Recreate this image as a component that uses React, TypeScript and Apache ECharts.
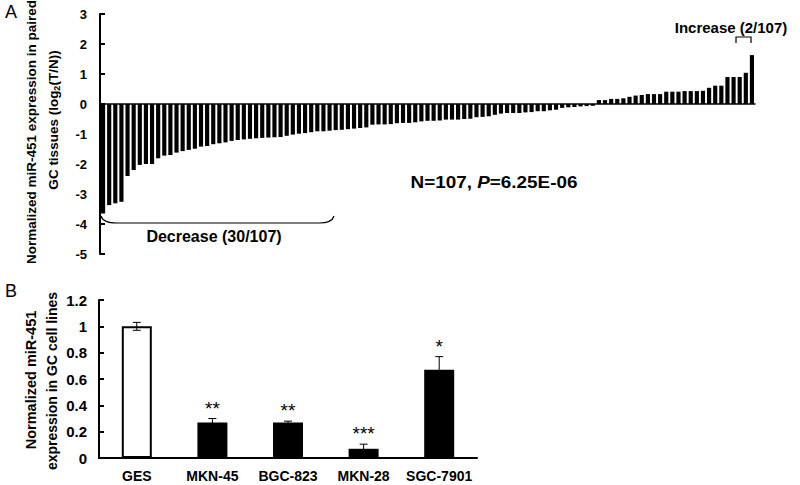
import React, { useEffect, useRef } from "react";
import * as echarts from "echarts";

// ---- Panel A: paired GC tissues, log2(T/N) ----
const tissueLog2Ratio: number[] = [
  -3.65, -3.37, -3.31, -3.26, -2.4, -2.2, -2.03, -2.0, -2.0, -1.81,
  -1.72, -1.7, -1.62, -1.57, -1.53, -1.49, -1.42, -1.4, -1.34, -1.31,
  -1.28, -1.23, -1.2, -1.18, -1.16, -1.14, -1.13, -1.12, -1.11, -1.1,
  -1.06, -1.02, -0.99, -0.97, -0.94, -0.91, -0.91, -0.89, -0.87, -0.86,
  -0.84, -0.82, -0.8, -0.78, -0.69, -0.68, -0.68, -0.67, -0.64, -0.63,
  -0.63, -0.61, -0.58, -0.56, -0.56, -0.55, -0.52, -0.52, -0.52, -0.5,
  -0.49, -0.44, -0.43, -0.41, -0.36, -0.32, -0.3, -0.3, -0.3, -0.28,
  -0.27, -0.24, -0.24, -0.21, -0.19, -0.13, -0.11, -0.1, -0.08, -0.07,
  -0.06,
  0.13, 0.13, 0.17, 0.17, 0.19, 0.24, 0.28, 0.3, 0.33, 0.33,
  0.33, 0.41, 0.41, 0.41, 0.43, 0.43, 0.43, 0.44, 0.54, 0.61,
  0.61, 0.9, 0.9, 0.9, 1.04, 1.63,
];
const tissueSamples: string[] = tissueLog2Ratio.map((_, i) => String(i + 1));
const tissueAxisMin = -5;
const tissueAxisMax = 3;
const tissueAxisStep = 1;

// ---- Panel B: GC cell lines ----
const cellLines: string[] = ["GES", "MKN-45", "BGC-823", "MKN-28", "SGC-7901"];
const cellMeans: number[] = [1.0, 0.27, 0.27, 0.07, 0.67];
const cellSD: number[] = [0.03, 0.03, 0.01, 0.035, 0.1];
const cellStars: string[] = ["", "**", "**", "***", "*"];
const cellAxisMin = 0;
const cellAxisMax = 1.2;
const cellAxisStep = 0.2;

const FONT = 'Arial, "Liberation Sans", sans-serif';

echarts.graphic.registerShape(
  "decreaseBrace",
  echarts.graphic.extendPath(
    "M101,216 Q103,223 117,223 L319,223 Q332,223 334,216",
    {}
  )
);

export default function App() {
  const ref = useRef<HTMLDivElement>(null);

  useEffect(() => {
    if (!ref.current) return;
    const chart = echarts.init(ref.current, undefined, { renderer: "svg" });

    const boldLabel = (size: number) => ({
      color: "#000",
      fontWeight: "bold" as const,
      fontSize: size,
      fontFamily: FONT,
    });

    const option: any = {
      animation: false,
      backgroundColor: "#fff",
      grid: [
        { left: 100, top: 14, width: 655, height: 240 },
        { left: 99, top: 300, width: 378, height: 158 },
      ],
      xAxis: [
        {
          type: "category",
          gridIndex: 0,
          data: tissueSamples,
          boundaryGap: true,
          axisLine: { onZero: true, lineStyle: { color: "#000", width: 1.5 } },
          axisTick: { show: false },
          axisLabel: { show: false },
          splitLine: { show: false },
        },
        {
          type: "category",
          gridIndex: 1,
          data: cellLines,
          boundaryGap: true,
          axisLine: { lineStyle: { color: "#000", width: 2 } },
          axisTick: { inside: true, length: 5, lineStyle: { color: "#000", width: 2 } },
          axisLabel: { ...boldLabel(14), margin: 11, interval: 0 },
        },
      ],
      yAxis: [
        {
          type: "value",
          gridIndex: 0,
          min: tissueAxisMin,
          max: tissueAxisMax,
          interval: tissueAxisStep,
          axisLine: { show: true, onZero: false, lineStyle: { color: "#000", width: 2 } },
          axisTick: { show: true, inside: true, length: 5, lineStyle: { color: "#000", width: 2 } },
          axisLabel: { ...boldLabel(13), margin: 13 },
          splitLine: { show: false },
        },
        {
          type: "value",
          gridIndex: 1,
          min: cellAxisMin,
          max: cellAxisMax,
          interval: cellAxisStep,
          axisLine: { show: true, onZero: false, lineStyle: { color: "#000", width: 2 } },
          axisTick: { show: true, inside: true, length: 5, lineStyle: { color: "#000", width: 2 } },
          axisLabel: {
            ...boldLabel(15),
            margin: 12,
            formatter: (v: number) => String(Math.round(v * 10) / 10),
          },
          splitLine: { show: false },
        },
      ],
      series: [
        {
          type: "bar",
          xAxisIndex: 0,
          yAxisIndex: 0,
          data: tissueLog2Ratio,
          barCategoryGap: "32%",
          itemStyle: { color: "#000" },
        },
        {
          type: "bar",
          xAxisIndex: 1,
          yAxisIndex: 1,
          barWidth: 30,
          data: cellMeans.map((v, i) =>
            i === 0
              ? { value: v, itemStyle: { color: "#fff", borderColor: "#000", borderWidth: 2 } }
              : { value: v, itemStyle: { color: "#000" } }
          ),
        },
        {
          type: "custom",
          xAxisIndex: 1,
          yAxisIndex: 1,
          z: 5,
          encode: { x: 0, y: [1, 2] },
          data: cellMeans.map((m, i) => [i, m - cellSD[i], m + cellSD[i]]),
          renderItem: (params: any, api: any) => {
            const idx = api.value(0);
            const lo = api.coord([idx, api.value(1)]);
            const hi = api.coord([idx, api.value(2)]);
            const x = hi[0];
            const stroke = { stroke: "#000", lineWidth: 1 };
            const children: any[] = [
              { type: "line", shape: { x1: x, y1: lo[1], x2: x, y2: hi[1] }, style: stroke },
              { type: "line", shape: { x1: x - 4, y1: hi[1], x2: x + 4, y2: hi[1] }, style: stroke },
              { type: "line", shape: { x1: x - 4, y1: lo[1], x2: x + 4, y2: lo[1] }, style: stroke },
            ];
            const star = cellStars[params.dataIndex];
            if (star) {
              children.push({
                type: "text",
                x: x,
                y: hi[1] - 1,
                style: {
                  text: star,
                  fill: "#000",
                  fontSize: 19,
                  fontFamily: FONT,
                  textAlign: "center",
                  textVerticalAlign: "bottom",
                },
              });
            }
            return { type: "group", children };
          },
        },
      ],
      graphic: [
        {
          type: "text",
          left: 5,
          top: 3,
          style: { text: "A", fill: "#000", fontSize: 18, fontFamily: FONT },
        },
        {
          type: "text",
          left: 5,
          top: 282,
          style: { text: "B", fill: "#000", fontSize: 18, fontFamily: FONT },
        },
        {
          type: "text",
          x: 31,
          y: 132,
          rotation: Math.PI / 2,
          style: {
            text: "Normalized miR-451 expression in paired",
            fill: "#000",
            fontSize: 13.5,
            fontWeight: "bold",
            fontFamily: FONT,
            textAlign: "center",
            textVerticalAlign: "middle",
          },
        },
        {
          type: "text",
          x: 53,
          y: 120,
          rotation: Math.PI / 2,
          style: {
            text: "{n|GC tissues (log}{s|2}{n|(T/N))}",
            textAlign: "center",
            textVerticalAlign: "middle",
            rich: {
              n: { fill: "#000", fontSize: 13.5, fontWeight: "bold", fontFamily: FONT, lineHeight: 16 },
              s: {
                fill: "#000",
                fontSize: 9,
                fontWeight: "bold",
                fontFamily: FONT,
                lineHeight: 16,
                verticalAlign: "bottom",
                padding: [6, 0, 0, 0],
              },
            },
          },
        },
        {
          type: "text",
          x: 31,
          y: 380,
          rotation: Math.PI / 2,
          style: {
            text: "Normalized miR-451",
            fill: "#000",
            fontSize: 14.5,
            fontWeight: "bold",
            fontFamily: FONT,
            textAlign: "center",
            textVerticalAlign: "middle",
          },
        },
        {
          type: "text",
          x: 52,
          y: 381,
          rotation: Math.PI / 2,
          style: {
            text: "expression in GC cell lines",
            fill: "#000",
            fontSize: 14,
            fontWeight: "bold",
            fontFamily: FONT,
            textAlign: "center",
            textVerticalAlign: "middle",
          },
        },
        {
          type: "text",
          x: 731,
          y: 27,
          style: {
            text: "Increase (2/107)",
            fill: "#000",
            fontSize: 15,
            fontWeight: "bold",
            fontFamily: FONT,
            textAlign: "center",
            textVerticalAlign: "middle",
          },
        },
        {
          type: "polyline",
          shape: { points: [[736, 43], [736, 37], [751, 37], [751, 43]] },
          style: { stroke: "#000", lineWidth: 1.2, fill: "none" },
        },
        {
          type: "decreaseBrace",
          x: 0,
          y: 0,
          style: { stroke: "#000", lineWidth: 1.2, fill: "none" },
        },
        {
          type: "text",
          x: 214,
          y: 236,
          style: {
            text: "Decrease (30/107)",
            fill: "#000",
            fontSize: 16,
            fontWeight: "bold",
            fontFamily: FONT,
            textAlign: "center",
            textVerticalAlign: "middle",
          },
        },
        {
          type: "text",
          x: 494,
          y: 183,
          scaleX: 1.18,
          style: {
            text: "{a|N=107, }{b|P}{a|=6.25E-06}",
            textAlign: "center",
            textVerticalAlign: "middle",
            rich: {
              a: { fill: "#000", fontSize: 16, fontWeight: "bold", fontFamily: FONT },
              b: { fill: "#000", fontSize: 16, fontWeight: "bold", fontStyle: "italic", fontFamily: FONT },
            },
          },
        },
      ],
    };

    chart.setOption(option);
    return () => chart.dispose();
  }, []);

  return (
    <div
      ref={ref}
      style={{ position: "fixed", left: 0, top: 0, width: 800, height: 485, background: "#fff" }}
    />
  );
}
